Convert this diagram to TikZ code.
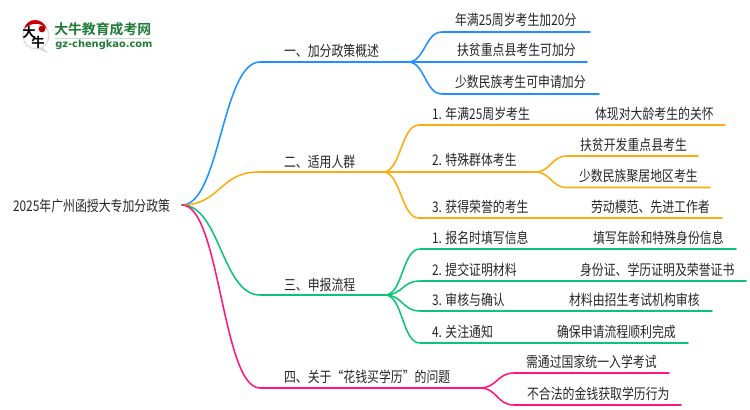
\documentclass[tikz,border=0pt]{standalone}
\usepackage{fontspec}
\setmainfont{Noto Sans CJK SC}[FakeStretch=0.81]
\newfontfamily\logobold{Noto Sans CJK SC Bold}
\newfontfamily\logolat{DejaVu Sans}
\definecolor{cblue}{HTML}{1E90FF}
\definecolor{corange}{HTML}{FFAA0D}
\definecolor{cgreen}{HTML}{0AC573}
\definecolor{cpink}{HTML}{FF1480}
\definecolor{ctext}{HTML}{262626}
\definecolor{clogo}{HTML}{1F7A35}
\tikzset{
  lab/.style={anchor=base west,inner sep=0pt,outer sep=0pt,text=ctext,font=\fontsize{11pt}{13pt}\selectfont},
  conn/.style={line width=1.15pt,line cap=round,line join=round},
}
\newcommand{\branch}[5]{\draw[conn,#1] (#2) .. controls +(#5,0) and +(-#5,0) .. (#3) -- (#4);}
\begin{document}
\begin{tikzpicture}[x=0.75pt,y=-0.75pt]
\useasboundingbox (0,0) rectangle (750,410);
% hubs
\coordinate (root) at (182,205);
\coordinate (h1) at (408,62);
\coordinate (h2) at (383,172);
\coordinate (h22) at (535,172);
\coordinate (h3) at (385,295);
\coordinate (h4) at (480,388);
% branch bends
\coordinate (b1) at (260,62);
\coordinate (b2) at (258,172);
\coordinate (b3) at (260,295);
\coordinate (b4) at (260,388);
\branch{cblue}{root}{b1}{h1}{38}
\branch{corange}{root}{b2}{h2}{38}
\branch{cgreen}{root}{b3}{h3}{38}
\branch{cpink}{root}{b4}{h4}{38}
% group 1
\coordinate (a1s) at (442,32); \coordinate (a1e) at (590,32);
\coordinate (a2e) at (587,62);
\coordinate (a3s) at (442,94); \coordinate (a3e) at (599,94);
\branch{cblue}{h1}{a1s}{a1e}{17}
\draw[conn,cblue] (h1) -- (a2e);
\branch{cblue}{h1}{a3s}{a3e}{17}
% group 2
\coordinate (c1s) at (419,125); \coordinate (c1e) at (725,125);
\coordinate (c3s) at (419,218); \coordinate (c3e) at (722,218);
\branch{corange}{h2}{c1s}{c1e}{18}
\draw[conn,corange] (h2) -- (h22);
\branch{corange}{h2}{c3s}{c3e}{18}
\coordinate (d1s) at (567,156); \coordinate (d1e) at (698,156);
\coordinate (d2s) at (567,187.5); \coordinate (d2e) at (710,187.5);
\branch{corange}{h22}{d1s}{d1e}{16}
\branch{corange}{h22}{d2s}{d2e}{16}
% group 3
\coordinate (e1s) at (420,249); \coordinate (e1e) at (736,249);
\coordinate (e2s) at (420,281); \coordinate (e2e) at (746,281);
\coordinate (e3s) at (420,311); \coordinate (e3e) at (712,311);
\coordinate (e4s) at (420,343); \coordinate (e4e) at (688,343);
\branch{cgreen}{h3}{e1s}{e1e}{18}
\branch{cgreen}{h3}{e2s}{e2e}{18}
\branch{cgreen}{h3}{e3s}{e3e}{18}
\branch{cgreen}{h3}{e4s}{e4e}{18}
% group 4
\coordinate (f1s) at (514,373); \coordinate (f1e) at (669,373);
\coordinate (f2s) at (514,405); \coordinate (f2e) at (681,405);
\branch{cpink}{h4}{f1s}{f1e}{17}
\branch{cpink}{h4}{f2s}{f2e}{17}
% labels
\node[lab] (rootl) at (13,211) {2025年广州函授大专加分政策};
\node[lab] (t1) at (284,57) {一、加分政策概述};
\node[lab] (t2) at (284,167) {二、适用人群};
\node[lab] (t3) at (284,290) {三、申报流程};
\node[lab] (t4) at (284,382) {四、关于“花钱买学历”的问题};
\node[lab] (a1) at (455,26) {年满25周岁考生加20分};
\node[lab] (a2) at (457,56) {扶贫重点县考生可加分};
\node[lab] (a3) at (455,88) {少数民族考生可申请加分};
\node[lab] (c1) at (432,119) {1. 年满25周岁考生};
\node[lab] (c1b) at (595,119) {体现对大龄考生的关怀};
\node[lab] (c2) at (432,166) {2. 特殊群体考生};
\node[lab] (d1) at (580,150) {扶贫开发重点县考生};
\node[lab] (d2) at (579,181) {少数民族聚居地区考生};
\node[lab] (c3) at (432,212) {3. 获得荣誉的考生};
\node[lab] (c3b) at (591,212) {劳动模范、先进工作者};
\node[lab] (e1) at (432,243) {1. 报名时填写信息};
\node[lab] (e1b) at (593,243) {填写年龄和特殊身份信息};
\node[lab] (e2) at (432,275) {2. 提交证明材料};
\node[lab] (e2b) at (580,275) {身份证、学历证明及荣誉证书};
\node[lab] (e3) at (432,305) {3. 审核与确认};
\node[lab] (e3b) at (569,305) {材料由招生考试机构审核};
\node[lab] (e4) at (432,337) {4. 关注通知};
\node[lab] (e4b) at (557,337) {确保申请流程顺利完成};
\node[lab] (f1) at (526,367) {需通过国家统一入学考试};
\node[lab] (f2) at (527,399) {不合法的金钱获取学历行为};
% logo
\fill[black!15] (42,47) -- (48,53) -- (38,49) -- cycle;
\draw[black!15,line width=0.8pt,fill=white] (36,36) circle (13);
\fill[red!80!black] (24,29) .. controls (27,17) and (43,17) .. (47,29) .. controls (41,22) and (31,22) .. (24,29) -- cycle;
\fill[red!70!black] (42,29) circle (3.4);
\node[inner sep=0pt,text=black,font=\logobold\fontsize{10pt}{10pt}\selectfont] (lg1) at (29,32) {大};
\node[inner sep=0pt,text=black,font=\logobold\fontsize{10pt}{10pt}\selectfont] (lg2) at (38,42) {牛};
\node[anchor=base west,inner sep=0pt,text=clogo,font=\logobold\fontsize{10.4pt}{11pt}\selectfont] (lg3) at (54,35) {大牛教育成考网};
\draw[clogo!25,line width=0.6pt] (55,38.5) -- (150,38.5);
\node[anchor=base west,inner sep=0pt,text=clogo,font=\logolat\bfseries\fontsize{7.4pt}{8pt}\selectfont] (lg4) at (55,48) {gz-chengkao.com};
\end{tikzpicture}
\end{document}
